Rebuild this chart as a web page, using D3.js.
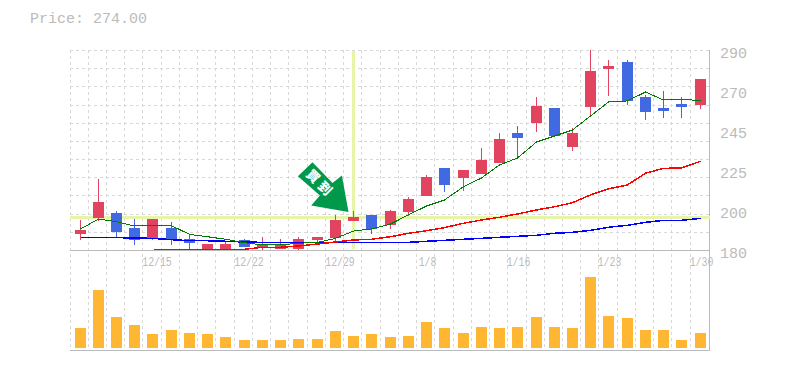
<!DOCTYPE html>
<html><head><meta charset="utf-8">
<script src="https://cdn.jsdelivr.net/npm/d3@7/dist/d3.min.js"></script>
<style>html,body{margin:0;padding:0;background:#fff}svg{display:block}text{font-family:"Liberation Mono",monospace;fill:#bbb}</style>
</head><body><svg id="c" width="785" height="370"></svg>
<script>
const priceLabel = "Price: 274.00";
const dateTicks = {4:"12/15",9:"12/22",14:"12/29",19:"1/8",24:"1/16",29:"1/23",34:"1/30"};
const yTickValues = [180,202,224,246,268,290];
const yTickLabels = ["180","200","225","245","270","290"];
const openP  = [189,197.6,200.4,192.1,186.2,192.1,186,180,180,185.5,181.7,180.6,180.6,185.5,186.6,196,199.3,193.8,200.9,209.7,225.1,219.6,221.8,227.9,244.4,249.9,258.1,236.7,258.7,279.6,283.4,264.2,258.1,260.3,259.8];
const closeP = [191,206.4,189.9,185.7,197,185.7,184,183.3,183.3,181.7,183.3,183.3,186,187.2,196.5,198.2,191.6,201.5,208,220.2,215.8,224,229.5,241,241.6,259.2,242.7,244.4,278.5,281.2,262,255.9,256.5,258.7,274];
const highP  = [196.5,219,201.5,197,197,195.4,188.3,183.3,185,186,187.2,186,187.2,187.2,199.3,201.5,199.3,202,209.2,221.3,225.1,224,236.1,244.4,248.2,264.2,258.1,247.1,292,284.5,284.5,265.3,267.5,264.2,274];
const lowP   = [185.7,196,186.8,182.9,185.5,182.9,180.2,179.5,179.5,181.7,179.5,180.6,179.5,183.5,185,196,189,191.6,198.7,209.7,211.9,212.5,221.8,227.9,230.6,244.9,242.7,234.5,253.7,264.7,259.8,251.5,252.6,252.6,257.6];
const maShort = [191.6,197,195.6,193.2,193.6,193.4,188.6,187.3,185.9,184,182.8,182.8,183.7,184.2,186.4,190.4,191.6,194.3,199.3,204.2,207.5,214.8,219.6,226.8,230.6,239.4,242.7,246,253.7,261.4,262,266.9,262.5,263,262.1];
const maMid = [null,null,null,null,179.8,180.4,180.4,180.4,180.4,180.4,181.5,181.5,182.2,183.3,184.4,185.5,185.9,187.3,189.2,190.6,192.3,194.7,196.5,198,199.8,202,203.8,206,210.3,213.6,215.8,222.2,224.9,225.1,228.8];
const maLong = [186.8,186.8,186.8,186.6,186.4,185.7,185.1,185.1,184.8,184.4,184.2,184.2,184.2,184.2,184,184.2,184.2,184.2,184.2,184.8,185.3,185.9,186.4,187,187.5,188.1,189.2,189.7,190.8,192.5,193.6,195.2,196.3,196.3,197.4];
const volume = [20,58,31,23,14,18,15,14,11,8,8,8,9,9,17,12,14,11,12,26,20,15,21,20,21,31,21,20,71,32,30,18,18,8,15];
const signalIndex = 15;
const signalPrice = 198.2;
const arrowText = "買到";

const svg = d3.select("#c");
const idx = d3.range(openP.length);
const x = d3.scaleBand().domain(idx).range([70,708.4]);
const y = d3.scaleLinear().domain([180,290]).range([250,50]);
const yv = d3.scaleLinear().domain([0,100]).range([348,248]);
const left = i => Math.floor(x(i));
const cx = i => left(i)+10.5;
const red="#e2445f", blue="#4169e1", grid="#d8d8d8", axisC="#bbb", hl="#e6f5a8";

svg.append("defs").append("clipPath").attr("id","plot").append("rect")
  .attr("x",70).attr("y",50).attr("width",640).attr("height",200);

// grid
const g = svg.append("g").attr("stroke",grid).attr("stroke-width",1).attr("stroke-dasharray","3,3").attr("shape-rendering","crispEdges");
g.selectAll(".v").data(idx).join("line").attr("x1",i=>left(i)+.5).attr("x2",i=>left(i)+.5).attr("y1",50).attr("y2",350);
g.selectAll(".h").data(d3.range(190,300,10)).join("line").attr("x1",70).attr("x2",709).attr("y1",d=>Math.round(y(d))+.5).attr("y2",d=>Math.round(y(d))+.5);

// frame
const f = svg.append("g").attr("stroke",axisC).attr("shape-rendering","crispEdges");
f.append("line").attr("x1",70).attr("x2",710).attr("y1",250.5).attr("y2",250.5);
f.append("line").attr("x1",70).attr("x2",710).attr("y1",350.5).attr("y2",350.5).attr("stroke-width",1.6);
f.append("line").attr("x1",709.5).attr("x2",709.5).attr("y1",50).attr("y2",350);

// signal crosshair
const hg = svg.append("g").attr("stroke",hl).attr("stroke-width",3).attr("shape-rendering","crispEdges");
hg.append("line").attr("x1",70).attr("x2",710).attr("y1",Math.round(y(signalPrice))+.5).attr("y2",Math.round(y(signalPrice))+.5);
hg.append("line").attr("x1",cx(signalIndex)).attr("x2",cx(signalIndex)).attr("y1",51).attr("y2",249);

// candles
const cg = svg.append("g").attr("clip-path","url(#plot)").attr("shape-rendering","crispEdges");
const col = i => closeP[i]>=openP[i]?red:blue;
cg.selectAll(".w").data(idx).join("line").attr("x1",cx).attr("x2",cx)
  .attr("y1",i=>y(highP[i])).attr("y2",i=>y(lowP[i])).attr("stroke",col).attr("stroke-width",1);
cg.selectAll(".b").data(idx).join("rect").attr("x",i=>left(i)+5).attr("width",11)
  .attr("y",i=>y(Math.max(openP[i],closeP[i])))
  .attr("height",i=>Math.abs(y(openP[i])-y(closeP[i]))).attr("fill",col);

// moving averages
const line = d3.line().defined(d=>d.v!=null).x(d=>cx(d.i)).y(d=>y(d.v));
[[maLong,"#0000ff",1.5],[maMid,"#ff0000",1.5],[maShort,"#007a00",1]].forEach(([s,c,w])=>{
  svg.append("path").attr("clip-path","url(#plot)").attr("d",line(s.map((v,i)=>({i,v})))).attr("fill","none").attr("stroke",c).attr("stroke-width",w).attr("shape-rendering","crispEdges");
});

// volume
svg.append("g").selectAll("rect").data(idx).join("rect").attr("x",i=>left(i)+5).attr("width",11)
  .attr("y",i=>yv(volume[i])).attr("height",i=>yv(0)-yv(volume[i])).attr("fill","#ffb733").attr("shape-rendering","crispEdges");

// signal arrow
const ag = svg.append("g").attr("transform",`translate(${cx(signalIndex)-5},${y(signalPrice)-5})`);
ag.append("path").attr("fill","#00984a").attr("d",d3.line()([[-36,-49.6],[-50.6,-35.6],[-28.6,-16.3],[-37.3,-6.3],[0,0],[-6.6,-36.3],[-16,-29]])+"Z");
ag.append("text").attr("transform","translate(-28,-28) rotate(45)").attr("text-anchor","middle").attr("dy",4.5)
  .style("fill","#fff").style("font-family","'Noto Sans CJK JP'").style("font-weight",900).attr("font-size",13).attr("letter-spacing",4).text(arrowText);

// axes text
svg.append("g").attr("font-size",15).selectAll("text").data(yTickValues).join("text")
  .attr("x",720).attr("y",d=>y(d)+8).text((d,i)=>yTickLabels[i]);
svg.append("g").attr("font-size",12).selectAll("text").data(Object.keys(dateTicks).map(Number)).join("text")
  .attr("text-anchor","middle").attr("x",i=>cx(i)+(dateTicks[i].length===5?4.5:1)).attr("y",266)
  .attr("textLength",i=>dateTicks[i].length*5.9).attr("lengthAdjust","spacingAndGlyphs").text(i=>dateTicks[i]);
svg.append("text").attr("x",30).attr("y",23).attr("font-size",15).text(priceLabel);
</script></body></html>
